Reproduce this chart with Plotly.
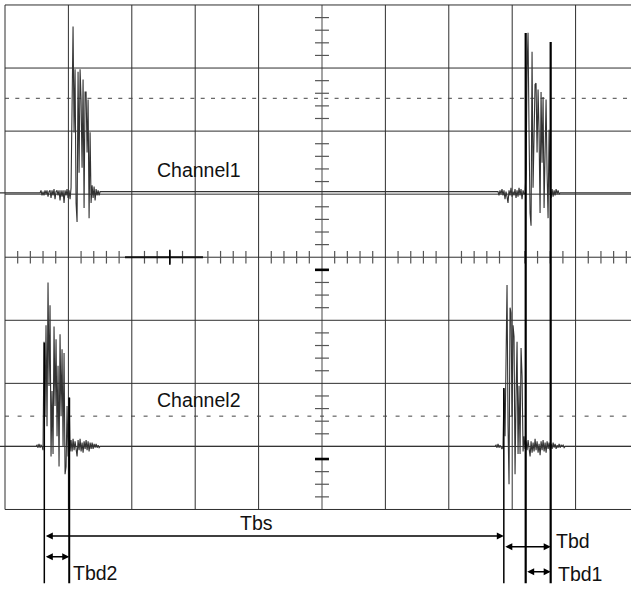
import plotly.graph_objects as go

# ---------------- scope settings ----------------
time_per_div_us = 10.0          # horizontal scale
volts_per_div_mV = 50.0         # vertical scale
sample_us = 0.158               # sample interval
ch1_offset_div = 1.02
ch2_offset_div = -3.0
trig_levels_div = [2.52, -2.52]

# ---------------- sampled bursts (mV) ----------------
ch1_burst_a_start_us = 5.52
ch1_burst_a_mV = [0, 2, -2, 1, -2, 2, -1, 2, -3, 1, 2, -4, 2, -2, 3, -5, 1, 2, -2, 2,
                  -6, 2, -3, 2, -8, 2, -2, 3, -4, 2, -5, 4,
                  98, 132, 48, 98, -8, -23, 96, 16, 98, 74, 20, 90, -12, 80, 80, 32, 74, -20, 48, -8, 6,
                  -4, 5, -6, 3, -2, 2, -2, 1]
ch1_burst_b_start_us = 77.76
ch1_burst_b_mV = [1, -2, 2, -1, 3, -2, 2, -5, 1, -3, -8, 2, -2, 4, -3, 1, -2, 3, -4, 2,
                  -3, 4, -2, 3, -5, 2, -1,
                  0, 16, 96, 127, 48, -16, -26, 112, 4, 48, 86, 87, 32, 82, 48, -16, 80, 24, 76, -12,
                  40, 74, 16, -20, 50, 0,
                  -4, 3, -3, 2, -2, 3, -1, 2, -1, 0]
ch2_burst_a_start_us = 4.89
ch2_burst_a_mV = [0, 1, -1, 2, -1, 1, 0, -3,
                  83, 24, 96, 16, 130, 48, 112, -8, 44, -6, 95, 32, 85, 8, 64, -16, 89, 24, 77, 0,
                  74, -22, -16, 32, -8, 39, -4,
                  5, -4, 6, -3, 4, -5, -8, 5, -3, 6, -4, 3, -5, 4, -2, 5, -3, 4, -4, 3,
                  -2, 3, -2, 2, -1, 2, -1, 1, -1, 0]
ch2_burst_b_start_us = 77.29
ch2_burst_b_mV = [0, 1, -1, 2, -1, 1, -1, -2, 0,
                  46, 8, 66, 128, 16, -30, 110, 106, 24, 96, 87, -22, 40, 83, -6, 48, -6, 78, 56, -4, 8, -2,
                  4, -3, 5, -4, -8, 4, -5, 3, -4, 6, -3, 4, -5, 2, -7, 4, -3, 5, -4, 3,
                  -5, 4, -2, 3, -3, 2, -2, 3, -1, 2, -2, 1, -1, 2, -1, 1, 0, 1, -1, 0]

# ---------------- cursors ----------------
cursor_us = [6.20, 10.13, 78.68, 82.13, 86.07]
cursor_top_div = [-1.355, -2.227, -2.074, 3.556, 3.413]
cursor_width = [1.5, 2, 1.5, 2.2, 2.2]
measure_names = ["Tbs", "Tbd2", "Tbd", "Tbd1"]
measure_pairs = [(0, 2), (0, 1), (2, 4), (3, 4)]

channel_labels = ["Channel1", "Channel2"]

# ---------------- geometry ----------------
X_RANGE = [-0.789, 98.74]
Y_RANGE = [-5.261, 4.079]
FONT = "Liberation Sans, Arial, sans-serif"


def build(bursts, offset):
    t = [X_RANGE[0] - 1]
    v = [0]
    for start, vals in bursts:
        for i, val in enumerate(vals):
            t.append(start + i * sample_us)
            v.append(val)
    t.append(X_RANGE[1] + 5)
    v.append(0)
    y = [offset + val / volts_per_div_mV for val in v]
    return t, y


fig = go.Figure()

shapes = []
grid_col = "#2e2e2e"
# vertical grid
for k in range(0, 11):
    xk = k * time_per_div_us
    if k == 5:
        shapes.append(dict(type="line", xref="x", yref="y", x0=xk, x1=xk, y0=-4, y1=4,
                           line=dict(color="#8c8c8c", width=1.6), layer="below"))
    else:
        shapes.append(dict(type="line", xref="x", yref="y", x0=xk, x1=xk, y0=-4, y1=4,
                           line=dict(color=grid_col, width=1), layer="below"))
# horizontal grid
for j in range(-4, 5):
    shapes.append(dict(type="line", xref="x", yref="y", x0=0, x1=100, y0=j, y1=j,
                       line=dict(color=grid_col, width=1), layer="below"))
# trigger level dashed lines
for lvl, dash in zip(trig_levels_div, ["4px,6.3px", "4px,8.6px"]):
    shapes.append(dict(type="line", xref="x", yref="y", x0=0, x1=100, y0=lvl, y1=lvl,
                       line=dict(color="#444444", width=1, dash=dash), layer="below"))
# ticks on horizontal center axis
for k in range(1, 50):
    tx = k * 2.0
    if k % 5 == 0:
        continue
    shapes.append(dict(type="line", xref="x", yref="y", x0=tx, x1=tx, y0=-0.1, y1=0.1,
                       line=dict(color="#555555", width=1.2), layer="below"))
# ticks on vertical center axis
for k in range(-19, 20):
    ty = k * 0.2
    if k % 5 == 0:
        continue
    shapes.append(dict(type="line", xref="x", yref="y", x0=48.9, x1=51.1, y0=ty, y1=ty,
                       line=dict(color="#555555", width=1.2), layer="below"))
# channel ground markers
for ty in [-0.2, -3.2]:
    shapes.append(dict(type="line", xref="x", yref="y", x0=48.9, x1=51.1, y0=ty, y1=ty,
                       line=dict(color="#000000", width=2.6), layer="below"))
# trigger position marker
shapes.append(dict(type="line", xref="x", yref="y", x0=18.93, x1=31.23, y0=0, y1=0,
                   line=dict(color="#111111", width=2.2), layer="below"))
shapes.append(dict(type="line", xref="x", yref="y", x0=26, x1=26, y0=-0.12, y1=0.12,
                   line=dict(color="#000000", width=1.6), layer="below"))

# cursors
for cx, ctop, cw in zip(cursor_us, cursor_top_div, cursor_width):
    shapes.append(dict(type="line", xref="x", yref="y", x0=cx, x1=cx, y0=ctop, y1=-5.17,
                       line=dict(color="#000000", width=cw)))

# signals
for bursts, off in [([(ch1_burst_a_start_us, ch1_burst_a_mV), (ch1_burst_b_start_us, ch1_burst_b_mV)], ch1_offset_div),
                    ([(ch2_burst_a_start_us, ch2_burst_a_mV), (ch2_burst_b_start_us, ch2_burst_b_mV)], ch2_offset_div)]:
    t, y = build(bursts, off)
    fig.add_trace(go.Scatter(x=t, y=y, mode="lines", line=dict(color="#333333", width=1.1),
                             hoverinfo="skip", showlegend=False))

annotations = []
# channel labels
for lab, ly in zip(channel_labels, [1.383, -2.259]):
    annotations.append(dict(x=23.82, y=ly, xref="x", yref="y", text=lab, showarrow=False,
                            xanchor="left", yanchor="middle", borderpad=0,
                            font=dict(family=FONT, size=19.5, color="#111111")))
# measurement arrows
arrow_y = {"Tbs": -4.42, "Tbd2": -4.749, "Tbd": -4.59, "Tbd1": -4.987}
for name, (a, b) in zip(measure_names, measure_pairs):
    annotations.append(dict(x=cursor_us[b], y=arrow_y[name], ax=cursor_us[a], ay=arrow_y[name],
                            xref="x", yref="y", axref="x", ayref="y", text="", showarrow=True,
                            arrowhead=2, arrowside="end+start", arrowsize=1.0, arrowwidth=1.4,
                            arrowcolor="#000000", standoff=0, startstandoff=0))
# measurement labels
label_pos = {"Tbs": (39.59, -4.214, "center"), "Tbd2": (10.55, -5.0, "left"),
             "Tbd": (86.8, -4.497, "left"), "Tbd1": (87.1, -5.02, "left")}
for name in measure_names:
    lx, ly, anc = label_pos[name]
    annotations.append(dict(x=lx, y=ly, xref="x", yref="y", text=name, showarrow=False,
                            xanchor=anc, yanchor="middle", borderpad=0,
                            font=dict(family=FONT, size=19.5, color="#111111")))

fig.update_layout(
    width=631, height=589, autosize=False,
    margin=dict(l=0, r=0, t=0, b=0, pad=0),
    paper_bgcolor="white", plot_bgcolor="white",
    xaxis=dict(range=X_RANGE, visible=False, showgrid=False, zeroline=False, fixedrange=True),
    yaxis=dict(range=Y_RANGE, visible=False, showgrid=False, zeroline=False, fixedrange=True),
    shapes=shapes, annotations=annotations, showlegend=False,
)

fig.write_html("out.html", config={"displayModeBar": False},
               post_script="document.body.style.margin='0';document.body.style.overflow='hidden';")
